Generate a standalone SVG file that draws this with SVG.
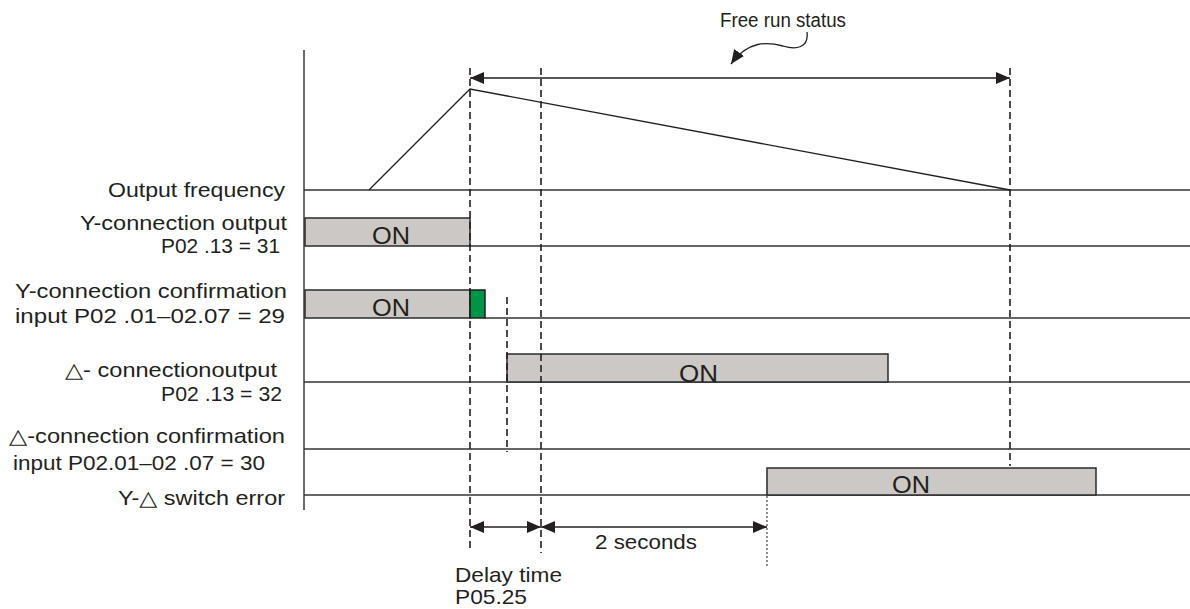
<svg xmlns="http://www.w3.org/2000/svg" width="1190" height="609" viewBox="0 0 1190 609">
<style>
.t{font-family:"Liberation Sans",Arial,"DejaVu Sans",sans-serif;font-size:21px;fill:#231f20}
.on{font-family:"Liberation Sans",Arial,sans-serif;font-size:24px;fill:#231f20}
.ax{stroke:#3a3a3a;stroke-width:1.5;fill:none}
.base{stroke:#333;stroke-width:1.4;fill:none}
.dash{stroke:#231f20;stroke-width:1.6;stroke-dasharray:7 4;fill:none}
.dot{stroke:#555;stroke-width:1.3;stroke-dasharray:2 2;fill:none}
.bar{fill:#ccc8c5;stroke:#2b2b2b;stroke-width:1.5}
.grn{fill:#009444;stroke:#1e1e1e;stroke-width:1.5}
.dim{stroke:#231f20;stroke-width:1.3;fill:none}
</style>
<defs>
<marker id="ah" viewBox="0 0 14 12" refX="14" refY="6" markerWidth="14" markerHeight="12" markerUnits="userSpaceOnUse" orient="auto-start-reverse">
<path d="M0,0 L14,6 L0,12 Z" fill="#231f20"/>
</marker>
</defs>

<g id="axis">
<line class="ax" x1="304" y1="50" x2="304" y2="510"/>
</g>

<g id="output-frequency">
<line class="base" x1="304" y1="190" x2="1190" y2="190"/>
<polyline class="dim" points="369,190 470,89 1010,190"/>
<text class="t" x="108" y="197" textLength="177" lengthAdjust="spacingAndGlyphs">Output frequency</text>
</g>

<g id="y-connection-output">
<line class="base" x1="470" y1="246" x2="1190" y2="246"/>
<rect class="bar" x="305" y="218" width="165" height="28"/>
<text class="on" x="372" y="244" textLength="38" lengthAdjust="spacingAndGlyphs">ON</text>
<text class="t" x="80" y="230" textLength="207" lengthAdjust="spacingAndGlyphs">Y-connection output</text>
<text class="t" x="161" y="253" textLength="119" lengthAdjust="spacingAndGlyphs">P02 .13 = 31</text>
</g>

<g id="y-connection-confirmation">
<line class="base" x1="485" y1="318" x2="1190" y2="318"/>
<rect class="bar" x="305" y="290" width="165" height="28"/>
<rect class="grn" x="470" y="290" width="15" height="28"/>
<text class="on" x="372" y="316" textLength="38" lengthAdjust="spacingAndGlyphs">ON</text>
<text class="t" x="15" y="298" textLength="272" lengthAdjust="spacingAndGlyphs">Y-connection confirmation</text>
<text class="t" x="15" y="323" textLength="270" lengthAdjust="spacingAndGlyphs">input P02 .01–02.07 = 29</text>
</g>

<g id="delta-connection-output">
<line class="base" x1="304" y1="382" x2="1190" y2="382"/>
<rect class="bar" x="507" y="354" width="381" height="28"/>
<text class="on" x="679" y="382" textLength="39" lengthAdjust="spacingAndGlyphs">ON</text>
<text class="t" x="65" y="377" textLength="212" lengthAdjust="spacingAndGlyphs">△- connectionoutput</text>
<text class="t" x="161" y="401" textLength="121" lengthAdjust="spacingAndGlyphs">P02 .13 = 32</text>
</g>

<g id="delta-connection-confirmation">
<line class="base" x1="304" y1="449" x2="1190" y2="449"/>
<text class="t" x="9" y="443" textLength="276" lengthAdjust="spacingAndGlyphs">△-connection confirmation</text>
<text class="t" x="13" y="470" textLength="252" lengthAdjust="spacingAndGlyphs">input P02.01–02 .07 = 30</text>
</g>

<g id="switch-error">
<line class="base" x1="304" y1="495" x2="1190" y2="495"/>
<rect class="bar" x="767" y="468" width="329" height="27"/>
<text class="on" x="892" y="493" textLength="38" lengthAdjust="spacingAndGlyphs">ON</text>
<text class="t" x="118" y="505" textLength="167" lengthAdjust="spacingAndGlyphs">Y-△ switch error</text>
</g>

<g id="connectors">
<line class="dash" x1="470" y1="68" x2="470" y2="550"/>
<line class="dash" x1="541" y1="68" x2="541" y2="553"/>
<line class="dash" x1="1010" y1="68" x2="1010" y2="466"/>
<line class="dash" x1="507" y1="297" x2="507" y2="452"/>
<line class="dot" x1="767" y1="468" x2="767" y2="566"/>
<line class="dim" x1="470" y1="78" x2="1010" y2="78" marker-start="url(#ah)" marker-end="url(#ah)"/>
<line class="dim" x1="470" y1="527" x2="541" y2="527" marker-start="url(#ah)" marker-end="url(#ah)"/>
<line class="dim" x1="541" y1="527" x2="767" y2="527" marker-start="url(#ah)" marker-end="url(#ah)"/>
<path class="dim" d="M807,32 C809,48 796,50 783,46 C768,42 748,40 731,64" marker-end="url(#ah)"/>
</g>

<g id="labels">
<text class="t" x="720" y="27" textLength="126" lengthAdjust="spacingAndGlyphs" style="font-size:20px">Free run status</text>
<text class="t" x="595" y="549" textLength="102" lengthAdjust="spacingAndGlyphs">2 seconds</text>
<text class="t" x="455" y="582" textLength="107" lengthAdjust="spacingAndGlyphs">Delay time</text>
<text class="t" x="455" y="604" textLength="72" lengthAdjust="spacingAndGlyphs">P05.25</text>
</g>
</svg>
